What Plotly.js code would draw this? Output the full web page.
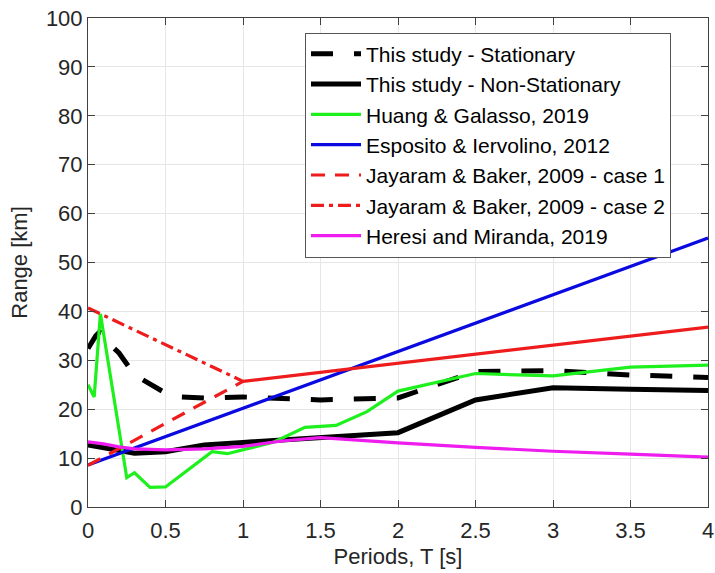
<!DOCTYPE html>
<html>
<head>
<meta charset="utf-8">
<script src="https://cdn.plot.ly/plotly-3.0.1.min.js"></script>
<style>html,body{margin:0;padding:0;background:#fff;}#chart{width:715px;height:573px;}</style>
</head>
<body>
<div id="chart"></div>
<script>
// ---- Data ----
const statT = [0, 0.05, 0.075, 0.1, 0.15, 0.2, 0.3, 0.4, 0.5, 0.6, 0.75, 1.0, 1.5, 2.0, 2.5, 3.0, 3.5, 4.0];
const statR = [32.4, 35.0, 35.8, 35.3, 33.0, 31.5, 27.0, 25.0, 23.3, 22.5, 22.3, 22.5, 21.9, 22.3, 27.7, 27.9, 27.0, 26.5];

const nonStatT = [0, 0.1, 0.2, 0.3, 0.5, 0.75, 1.0, 1.5, 1.8, 2.0, 2.5, 3.0, 3.5, 4.0];
const nonStatR = [12.7, 12.2, 11.5, 11.0, 11.3, 12.7, 13.2, 14.2, 15.0, 15.2, 21.9, 24.4, 24.1, 23.8];

const huangT = [0, 0.04, 0.08, 0.25, 0.3, 0.4, 0.5, 0.6, 0.7, 0.8, 0.9, 1.0, 1.2, 1.4, 1.6, 1.8, 2.0, 2.5, 3.0, 3.5, 4.0];
const huangR = [25.0, 22.5, 39.5, 6.0, 7.0, 4.0, 4.1, 6.5, 8.7, 11.3, 10.9, 11.7, 13.3, 16.3, 16.7, 19.5, 23.7, 27.3, 26.8, 28.6, 29.0];

const espT = [0, 4];
const espR = [8.6, 55.0];

const jb1T = [0, 1];
const jb1R = [8.5, 25.7];
const jb2T = [0, 1];
const jb2R = [40.7, 25.7];
const jbLongT = [1, 4];
const jbLongR = [25.7, 36.8];

const heresiT = [0, 0.1, 0.2, 0.3, 0.5, 0.75, 1.0, 1.25, 1.5, 2.0, 2.5, 3.0, 3.5, 4.0];
const heresiR = [13.3, 12.9, 12.3, 11.9, 11.7, 11.9, 12.4, 13.5, 14.2, 13.1, 12.2, 11.4, 10.8, 10.2];

const names = [
  'This study - Stationary',
  'This study - Non-Stationary',
  'Huang & Galasso, 2019',
  'Esposito & Iervolino, 2012',
  'Jayaram & Baker, 2009 - case 1',
  'Jayaram & Baker, 2009 - case 2',
  'Heresi and Miranda, 2019'
];

const xTickVals = [0, 0.5, 1, 1.5, 2, 2.5, 3, 3.5, 4];
const xTickText = ['0', '0.5', '1', '1.5', '2', '2.5', '3', '3.5', '4'];
const yTickVals = [0, 10, 20, 30, 40, 50, 60, 70, 80, 90, 100];

const RED = '#ee1c1c';
const traces = [
  {x: statT, y: statR, name: names[0], mode: 'lines', line: {color: '#000', width: 5, dash: '22px,21px'}},
  {x: nonStatT, y: nonStatR, name: names[1], mode: 'lines', line: {color: '#000', width: 5}},
  {x: huangT, y: huangR, name: names[2], mode: 'lines', line: {color: '#1ef01e', width: 3.2}},
  {x: espT, y: espR, name: names[3], mode: 'lines', line: {color: '#0a0ae0', width: 3.2}},
  {x: jb1T, y: jb1R, name: names[4], mode: 'lines', line: {color: RED, width: 3.2, dash: '14px,10px'}},
  {x: jb2T, y: jb2R, name: names[5], mode: 'lines', line: {color: RED, width: 3.2, dash: '13px,5px,4px,5px'}},
  {x: jbLongT, y: jbLongR, name: 'Jayaram & Baker, 2009', showlegend: false, mode: 'lines', line: {color: RED, width: 3.2}},
  {x: heresiT, y: heresiR, name: names[6], mode: 'lines', line: {color: '#ee1cee', width: 3.2}}
];

const axisCommon = {
  showline: true, linecolor: '#404040', linewidth: 1, mirror: 'ticks',
  ticks: 'inside', ticklen: 7, tickcolor: '#404040', tickwidth: 1,
  showgrid: true, gridcolor: '#e6e6e6', gridwidth: 1, zeroline: false,
  tickfont: {family: 'Liberation Sans, Arial, sans-serif', size: 22, color: '#262626'}
};

const layout = {
  width: 715, height: 573,
  margin: {l: 88, r: 7, t: 18, b: 66},
  paper_bgcolor: '#fff', plot_bgcolor: '#fff',
  font: {family: 'Liberation Sans, Arial, sans-serif', color: '#262626'},
  xaxis: Object.assign({}, axisCommon, {
    range: [0, 4], tickvals: xTickVals, ticktext: xTickText, ticklabelstandoff: 4,
    title: {text: 'Periods, T [s]', font: {size: 22, color: '#262626'}, standoff: 6}
  }),
  yaxis: Object.assign({}, axisCommon, {
    range: [0, 100], tickvals: yTickVals,
    title: {text: 'Range [km]', font: {size: 22, color: '#262626'}, standoff: 12}
  }),
  legend: {
    x: 0.35, y: 0.97, xanchor: 'left', yanchor: 'top',
    bgcolor: '#fff', bordercolor: '#555', borderwidth: 1,
    font: {size: 21, color: '#000'},
    itemwidth: 50,
    tracegroupgap: 0
  },
  showlegend: true
};

Plotly.newPlot('chart', traces, layout, {displayModeBar: false, staticPlot: true});
</script>
</body>
</html>
